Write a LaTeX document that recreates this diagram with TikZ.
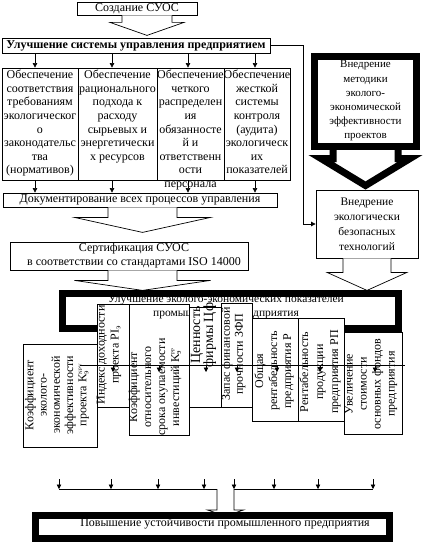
\documentclass[tikz,border=0pt]{standalone}
\usepackage{fontspec}
\setmainfont{Liberation Serif}
\usetikzlibrary{arrows.meta,calc}
\newcommand{\blockarrow}[6][]{%
  \filldraw[hollow,#1] ($(#2)+(-#3,0)$) -- ++(0,#4) -- ++({#3-#5},0)
    -- ($(#2)+(0,{#4+#6})$) -- ($(#2)+(#5,#4)$) -- ++({#3-#5},0) -- ($(#2)+(#3,0)$);}
\begin{document}
\begin{tikzpicture}[x=1pt,y=-1pt,
  box/.style={draw, line width=0.8pt, fill=white, inner sep=0pt},
  thickbox/.style={draw, line width=7pt, fill=white, inner sep=0pt},
  txt/.style={inner sep=0pt, align=center, font=\fontsize{12}{13.6}\selectfont},
  vtxt/.style={inner sep=0pt, align=center, rotate=90, font=\fontsize{12}{14}\selectfont},
  arr/.style={-{Triangle[length=4.5pt,width=4.5pt]}, line width=0.6pt},
  hollow/.style={draw, line width=0.7pt, fill=white},
  plain/.style={line width=0.7pt}]
\useasboundingbox (0,0) rectangle (426,543);

% top box and title
\node[box, minimum width=120pt, minimum height=13pt, font=\fontsize{12}{14}\selectfont] (create) at (137,8.5) {Создание СУОС};
\coordinate (a0) at ($(create.south)+(10,0)$);
\blockarrow{a0}{25}{7}{37}{13}
\node[box, minimum width=268pt, minimum height=15pt, font=\bfseries\fontsize{12}{14}\selectfont] (ulucs) at (136,45.5) {Улучшение системы управления предприятием};

% four boxes
\node[box, minimum width=76pt, minimum height=112pt] (b1) at (40,124) {};
\node[box, minimum width=79pt, minimum height=112pt] (b2) at (117.5,124) {};
\node[box, minimum width=67pt, minimum height=112pt] (b3) at (190.5,124) {};
\node[box, minimum width=66pt, minimum height=112pt] (b4) at (257,124) {};
\node[txt, anchor=north] (t1) at (40,70) {Обеспечение\\соответствия\\требованиям\\экологическог\\о\\законодательс\\тва\\(нормативов)};
\node[txt, anchor=north] (t2) at (117.5,70) {Обеспечение\\рационального\\подхода к\\расходу\\сырьевых и\\энергетически\\х ресурсов};
\node[txt, anchor=north] (t3) at (190.5,70) {Обеспечение\\четкого\\распределен\\ия\\обязанносте\\й и\\ответственн\\ости\\персонала};
\node[txt, anchor=north] (t4) at (257,70) {Обеспечение\\жесткой\\системы\\контроля\\(аудита)\\экологическ\\их\\показателей};

\node[box, minimum width=274pt, minimum height=14pt, font=\fontsize{12}{14}\selectfont] (doc) at (140,200) {Документирование всех процессов управления};

\foreach \b/\s in {b1/-5,b2/-5.5,b3/-2.5,b4/-2} {
  \draw[arr] ([xshift=\s pt]\b.north |- ulucs.south) -- ([xshift=\s pt]\b.north);
  \draw[arr] ([xshift=\s pt]\b.south) -- ([xshift=\s pt]\b.south |- doc.north);
}

\coordinate (a1) at ($(doc.south)+(2.5,0)$);
\blockarrow{a1}{34.5}{10}{68}{15}

\node[box, minimum width=238pt, minimum height=28pt] (cert) at (129,256) {};
\node[txt, font=\fontsize{12}{14}\selectfont] (certt) at (134,256) {Сертификация СУОС\\в соответствии со стандартами ISO 14000};
\coordinate (a2) at ($(cert.south)+(13.5,0)$);
\blockarrow{a2}{34.5}{10}{68}{10}

% right column
\coordinate (a3) at (365.5,146.5);
\blockarrow[line width=7pt, line join=miter]{a3}{32.5}{12}{44.5}{27}
\node[thickbox, minimum width=102pt, minimum height=90pt] (metod) at (365.5,101.5) {};
\node[txt, font=\fontsize{11}{14.2}\selectfont] (metodt) at (365.5,101) {Внедрение\\методики\\эколого-\\экономической\\эффективности\\проектов};

\node[box, minimum width=102pt, minimum height=68pt] (tech) at (367,224) {};
\node[txt, font=\fontsize{11.5}{15}\selectfont] (techt) at (367,224) {Внедрение\\экологически\\безопасных\\технологий};
\draw[arr, plain] (ulucs.east) -- ++(33,0) |- (tech.west);
\coordinate (a4) at (tech.south);
\blockarrow{a4}{24}{14}{40}{18}

% middle thick box
\node[thickbox, minimum width=336pt, minimum height=35pt] (econ) at (230.5,311) {};
\node[box, minimum width=60pt, minimum height=131pt] (kC) at (159,369.5) {};
\node[txt, font=\fontsize{11.5}{14}\selectfont] (econt) at (226,307) {Улучшение эколого-экономических показателей\\промышленного предприятия};
\node[box, minimum width=32pt, minimum height=103pt] (kB) at (113,355.5) {};
\node[box, minimum width=32pt, minimum height=100pt] (kD) at (205,357) {};
\node[box, minimum width=31pt, minimum height=104pt] (kE) at (236.5,355) {};
\node[box, minimum width=46pt, minimum height=103pt] (kF) at (275,369.5) {};
\node[box, minimum width=46pt, minimum height=103pt] (kG) at (321,369.5) {};
\node[box, minimum width=58pt, minimum height=102pt] (kH) at (373,383) {};
\node[box, minimum width=74pt, minimum height=103pt] (kA) at (60,395.5) {};

\node[vtxt, font=\fontsize{12}{13.3}\selectfont] (tA) at (57,395) {Коэффициент\\эколого-\\экономической\\эффективности\\проекта K\rlap{\textsubscript{э}}\textsuperscript{\tiny NPV}};
\node[vtxt] (tB) at (109,355) {Индекс доходности\\проекта PI\textsubscript{э}};
\node[vtxt] (tC) at (155,387) {Коэффициент\\относительного\\срока окупаемости\\инвестиций K\rlap{\textsubscript{э}}\textsuperscript{\tiny PP}};
\node[vtxt, font=\fontsize{14}{13}\selectfont] (tD) at (203.5,335) {Ценность\\фирмы Цф};
\node[vtxt, font=\fontsize{12}{13}\selectfont] (tE) at (233.5,354) {Запас финансовой\\прочности ЗФП};
\node[vtxt] (tF) at (274,371) {Общая\\рентабельность\\предприятия Р};
\node[vtxt, font=\fontsize{12}{15}\selectfont] (tG) at (320,372) {Рентабельность\\продукции\\предприятия РП};
\node[vtxt] (tH) at (371,384) {Увеличение\\стоимости\\основных фондов\\предприятия};

\coordinate (mL) at (80,365);
\coordinate (mR) at (405,365);
\draw[plain] (mL) -- (mR);
\foreach \x [count=\i] in {113,159,206,237,277,320,375} {
  \coordinate (m\i) at (\x,365);
  \draw[arr] (m\i) -- ++(0,7);
}

% bottom
\coordinate (hL) at (59,489);
\coordinate (hR) at (373,489);
\foreach \x [count=\i] in {59,111,158,204,234,274,318,373} {
  \coordinate (q\i) at (\x,479);
  \draw[arr] (q\i) -- (q\i |- hL);
}
\draw[plain] (hL) -- (hR);
\coordinate (a5) at (225.5,489);
\blockarrow{a5}{8.5}{21}{18}{6}
\node[thickbox, minimum width=354pt, minimum height=23pt] (final) at (212.5,527) {};
\node[txt, font=\fontsize{12}{14}\selectfont] (finalt) at (225,524) {Повышение устойчивости промышленного предприятия};
\end{tikzpicture}
\end{document}
